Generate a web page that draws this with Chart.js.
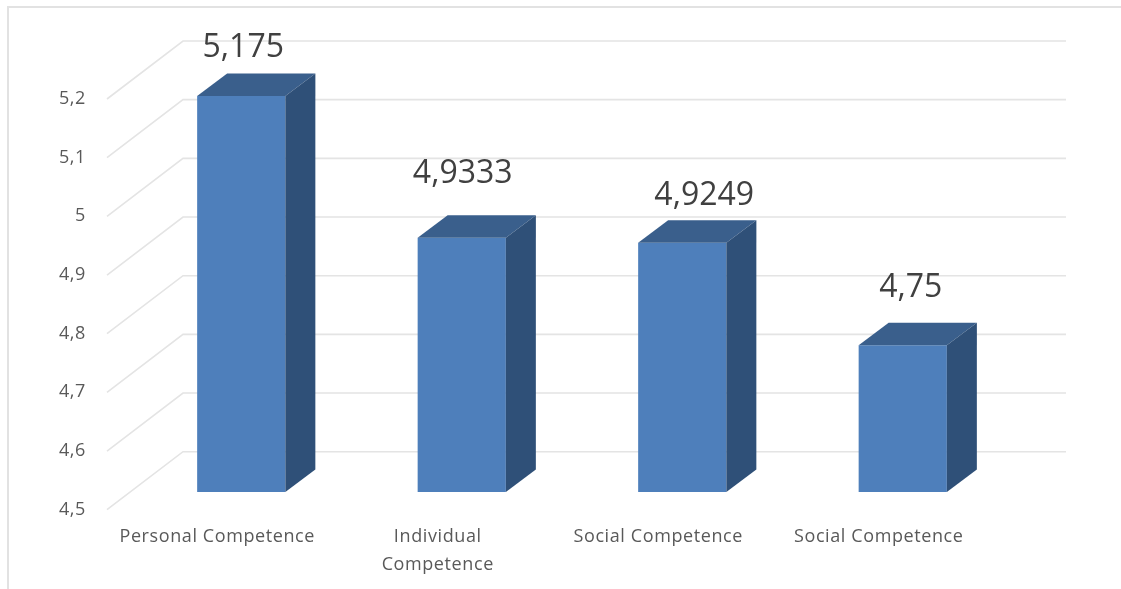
<!DOCTYPE html>
<html>
<head>
<meta charset="utf-8">
<style>
  html, body { margin: 0; padding: 0; background: #fff; }
  #wrap { width: 1121px; height: 589px; }
</style>
<script src="https://cdn.jsdelivr.net/npm/chart.js@4/dist/chart.umd.min.js"></script>
</head>
<body>
<div id="wrap"><canvas id="chart" width="1121" height="589"></canvas></div>
<script>
const categories = [
  "Personal Competence",
  ["Individual", "Competence"],
  "Social Competence",
  "Social Competence",
];
const values = [5.175, 4.9333, 4.9249, 4.75];
const valueLabels = ["5,175", "4,9333", "4,9249", "4,75"];
const tickLabels = ["4,5", "4,6", "4,7", "4,8", "4,9", "5", "5,1", "5,2"];

const FONT = "'Open Sans', sans-serif";
const TEXT = "#595959";

// fake 3D: side wall, back wall and the top/side faces of each bar
const depthPlugin = {
  id: "depth",
  beforeDraw(chart) {
    // the axis text in the picture is spaced wide
    chart.ctx.letterSpacing = "0.6px";
  },
  beforeDatasetsDraw(chart) {
    const { ctx } = chart;
    const y = chart.scales.y;
    ctx.save();
    // picture frame
    ctx.strokeStyle = "#e2e2e2";
    ctx.lineWidth = 2;
    ctx.beginPath();
    ctx.moveTo(8, 589);
    ctx.lineTo(8, 7);
    ctx.lineTo(1121, 7);
    ctx.stroke();
    // grid
    ctx.strokeStyle = "#e4e4e4";
    ctx.lineWidth = 1.6;
    y.ticks.forEach((t) => {
      const p = y.getPixelForValue(t.value);
      ctx.beginPath();
      ctx.moveTo(107, p + 17.7);
      ctx.lineTo(183, p - 40.3);
      ctx.lineTo(1066, p - 40.3);
      ctx.stroke();
    });
    ctx.restore();
  },
  afterDatasetsDraw(chart) {
    const { ctx } = chart;
    const floor = chart.chartArea.bottom;
    const dx = 30, dy = -22.5;
    const nudgeX = [2, 1, 22, 8];
    const nudgeY = [-48.5, -63.5, -46.5, -57.5];
    ctx.save();
    ctx.letterSpacing = "0px";
    chart.getDatasetMeta(0).data.forEach((bar, i) => {
      const l = bar.x - bar.width / 2, r = bar.x + bar.width / 2;
      ctx.fillStyle = "#3a5f8c";
      ctx.beginPath();
      ctx.moveTo(l, bar.y);
      ctx.lineTo(l + dx, bar.y + dy);
      ctx.lineTo(r + dx, bar.y + dy);
      ctx.lineTo(r, bar.y);
      ctx.closePath();
      ctx.fill();
      ctx.fillStyle = "#2f5078";
      ctx.beginPath();
      ctx.moveTo(r, bar.y);
      ctx.lineTo(r + dx, bar.y + dy);
      ctx.lineTo(r + dx, floor + dy);
      ctx.lineTo(r, floor);
      ctx.closePath();
      ctx.fill();
      ctx.fillStyle = "#404040";
      ctx.font = "32px " + FONT;
      ctx.textAlign = "center";
      ctx.textBaseline = "middle";
      ctx.fillText(valueLabels[i], bar.x + nudgeX[i], bar.y + nudgeY[i]);
    });
    ctx.restore();
  },
};

new Chart(document.getElementById("chart"), {
  type: "bar",
  data: {
    labels: categories,
    datasets: [
      {
        data: values,
        backgroundColor: "#4e7fbb",
        borderWidth: 0,
        categoryPercentage: 1,
        barPercentage: 0.4,
      },
    ],
  },
  options: {
    responsive: false,
    animation: false,
    layout: { padding: { top: 81.3, right: 108 } },
    plugins: {
      legend: { display: false },
      tooltip: { enabled: false },
    },
    scales: {
      x: {
        grid: { display: false, drawTicks: false },
        border: { display: false },
        afterFit(scale) {
          scale.height = 97;
        },
        ticks: {
          color: TEXT,
          font: { family: FONT, size: 18, lineHeight: 1.56 },
          labelOffset: -24,
          padding: 31,
          maxRotation: 0,
          autoSkip: false,
        },
      },
      y: {
        min: 4.5,
        max: 5.2,
        grid: { display: false, drawTicks: false },
        border: { display: false },
        afterFit(scale) {
          scale.width = 131;
        },
        ticks: {
          stepSize: 0.1,
          color: TEXT,
          font: { family: FONT, size: 18 },
          padding: 45,
          labelOffset: 17.5,
          callback: (v, i) => tickLabels[i],
        },
      },
    },
  },
  plugins: [depthPlugin],
});
</script>
</body>
</html>
